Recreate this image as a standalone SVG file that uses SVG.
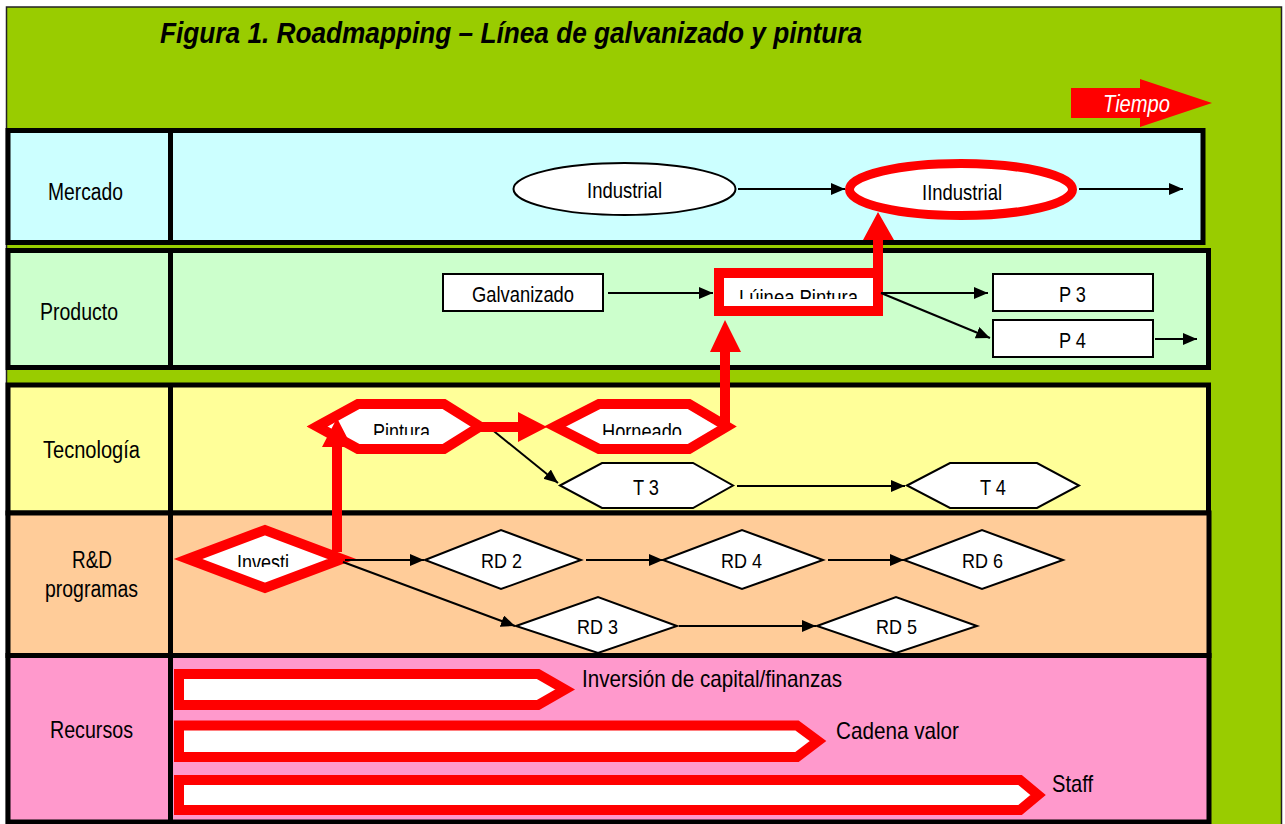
<svg xmlns="http://www.w3.org/2000/svg" width="1285" height="824" viewBox="0 0 1285 824">
<style>
  .lane{stroke:#000;stroke-width:5}
  .div{stroke:#000;stroke-width:5}
  .node{fill:#fff;stroke:#000;stroke-width:2}
  .hl{fill:#fff;stroke:#f00;stroke-width:10;stroke-linejoin:miter}
  .hle{fill:#fff;stroke:#f00;stroke-width:9}
  .t{font-family:"Liberation Sans",Arial,sans-serif;fill:#000}
  .lab{font-size:23.5px}
  .nl{font-size:22px}
  .rd{font-size:21px}
  .res{font-size:24px}
  .conn{stroke:#000;stroke-width:2;fill:none}
  .red{fill:#f00;stroke:none}
</style>
<defs>
  <marker id="ah" markerUnits="userSpaceOnUse" markerWidth="15" markerHeight="13" refX="14" refY="6" orient="auto">
    <path d="M0,0 L14,6 L0,12 z" fill="#000"/>
  </marker>
  <clipPath id="cLinea"><rect x="720" y="270" width="160" height="29"/></clipPath>
  <clipPath id="cPint"><rect x="320" y="400" width="420" height="35"/></clipPath>
  <clipPath id="cInv"><rect x="190" y="530" width="150" height="37"/></clipPath>
</defs>

<!-- background -->
<rect x="0" y="0" width="1285" height="824" fill="#fff"/>
<rect x="6.5" y="7" width="1275" height="822" fill="#99CC00" stroke="#222" stroke-width="1.5"/>

<text class="t" x="160" y="43" font-size="29" font-weight="bold" font-style="italic" textLength="702" lengthAdjust="spacingAndGlyphs">Figura 1. Roadmapping – Línea de galvanizado y pintura</text>

<g id="tiempo">
  <polygon class="red" points="1071,88 1140,88 1140,79 1212,103 1140,127 1140,118 1071,118"/>
  <text class="t" x="1103" y="112" font-size="24" font-style="italic" fill="#fff" style="fill:#fff" textLength="67" lengthAdjust="spacingAndGlyphs">Tiempo</text>
</g>

<!-- lanes -->
<g id="lane-mercado">
  <rect class="lane" x="8" y="130.5" width="1195" height="112" fill="#CCFFFF"/>
  <line class="div" x1="170.5" y1="130.5" x2="170.5" y2="242.5"/>
  <text class="t lab" x="48" y="200" textLength="75" lengthAdjust="spacingAndGlyphs">Mercado</text>
</g>
<g id="lane-producto">
  <rect class="lane" x="8" y="250.5" width="1200.5" height="117" fill="#CCFFCC"/>
  <line class="div" x1="170.5" y1="250.5" x2="170.5" y2="367.5"/>
  <text class="t lab" x="40" y="320" textLength="78" lengthAdjust="spacingAndGlyphs">Producto</text>
</g>
<g id="lane-tecnologia">
  <rect class="lane" x="8" y="385" width="1200.5" height="128" fill="#FFFF99"/>
  <line class="div" x1="170.5" y1="385" x2="170.5" y2="513"/>
  <text class="t lab" x="43" y="458" textLength="97" lengthAdjust="spacingAndGlyphs">Tecnología</text>
</g>
<g id="lane-rd">
  <rect class="lane" x="8" y="513" width="1201" height="142.5" fill="#FFCC99"/>
  <line class="div" x1="170.5" y1="513" x2="170.5" y2="655.5"/>
  <text class="t lab" x="72" y="568" textLength="40" lengthAdjust="spacingAndGlyphs">R&amp;D</text>
  <text class="t lab" x="45" y="597" textLength="93" lengthAdjust="spacingAndGlyphs">programas</text>
</g>
<g id="lane-recursos">
  <rect class="lane" x="8" y="655.5" width="1201" height="166.5" fill="#FF99CC"/>
  <line class="div" x1="170.5" y1="655.5" x2="170.5" y2="822"/>
  <text class="t lab" x="50" y="738" textLength="83" lengthAdjust="spacingAndGlyphs">Recursos</text>
</g>

<!-- Mercado nodes -->
<g id="m-industrial">
  <ellipse class="node" cx="624.5" cy="189" rx="111" ry="26"/>
  <text class="t nl" x="587" y="198" textLength="75" lengthAdjust="spacingAndGlyphs">Industrial</text>
</g>
<g id="m-iindustrial">
  <ellipse class="hle" cx="961" cy="189.5" rx="111.5" ry="26"/>
  <text class="t nl" x="922" y="200" textLength="80" lengthAdjust="spacingAndGlyphs">IIndustrial</text>
</g>

<!-- Producto nodes -->
<g id="p-galvanizado">
  <rect class="node" x="443" y="274" width="160" height="37"/>
  <text class="t nl" x="472" y="302" textLength="102" lengthAdjust="spacingAndGlyphs">Galvanizado</text>
</g>
<g id="p-linea">
  <rect class="hl" x="719" y="273" width="159" height="38"/>
  <text class="t nl" x="739" y="305" clip-path="url(#cLinea)" textLength="119" lengthAdjust="spacingAndGlyphs">Lúinea Pintura</text>
</g>
<g id="p-p3">
  <rect class="node" x="993" y="274" width="160" height="37"/>
  <text class="t nl" x="1059" y="302" textLength="27" lengthAdjust="spacingAndGlyphs">P 3</text>
</g>
<g id="p-p4">
  <rect class="node" x="993" y="320" width="160" height="37"/>
  <text class="t nl" x="1059" y="348" textLength="27" lengthAdjust="spacingAndGlyphs">P 4</text>
</g>

<!-- Tecnologia nodes -->
<g id="t-pintura">
  <polygon class="hl" points="317,426.5 358,404 444,404 480,426.5 444,449 358,449"/>
  <text class="t nl" x="373" y="439" clip-path="url(#cPint)" textLength="57" lengthAdjust="spacingAndGlyphs">Pintura</text>
</g>
<g id="t-horneado">
  <polygon class="hl" points="555,426.5 599,404 689,404 727,426.5 689,449 599,449"/>
  <text class="t nl" x="602" y="439" clip-path="url(#cPint)" textLength="80" lengthAdjust="spacingAndGlyphs">Horneado</text>
</g>
<g id="t-t3">
  <polygon class="node" points="560,485.5 602,463 693,463 733,485.5 693,508 602,508"/>
  <text class="t nl" x="633" y="495" textLength="26" lengthAdjust="spacingAndGlyphs">T 3</text>
</g>
<g id="t-t4">
  <polygon class="node" points="907,485.5 950,463 1037,463 1079,485.5 1037,508 950,508"/>
  <text class="t nl" x="980" y="495" textLength="26" lengthAdjust="spacingAndGlyphs">T 4</text>
</g>

<!-- R&D nodes -->
<g id="rd-investi">
  <polygon class="hl" points="188,559 265,530 342,559 265,588"/>
  <text class="t nl" x="237" y="570" clip-path="url(#cInv)" textLength="52" lengthAdjust="spacingAndGlyphs">Investi</text>
</g>
<g id="rd-2">
  <polygon class="node" points="425,560 501,530 581,560 501,589"/>
  <text class="t rd" x="481" y="568" textLength="41" lengthAdjust="spacingAndGlyphs">RD 2</text>
</g>
<g id="rd-4">
  <polygon class="node" points="663,560 742,530 823,560 742,589"/>
  <text class="t rd" x="721" y="568" textLength="41" lengthAdjust="spacingAndGlyphs">RD 4</text>
</g>
<g id="rd-6">
  <polygon class="node" points="904,560 982,530 1063,560 982,589"/>
  <text class="t rd" x="962" y="568" textLength="41" lengthAdjust="spacingAndGlyphs">RD 6</text>
</g>
<g id="rd-3">
  <polygon class="node" points="516,626 598,597 677,626 598,653"/>
  <text class="t rd" x="577" y="634" textLength="41" lengthAdjust="spacingAndGlyphs">RD 3</text>
</g>
<g id="rd-5">
  <polygon class="node" points="817,626 896,597 977,626 896,653"/>
  <text class="t rd" x="876" y="634" textLength="41" lengthAdjust="spacingAndGlyphs">RD 5</text>
</g>

<!-- Recursos -->
<g id="r-inversion">
  <polygon class="hl" points="179,674 538,674 565,689.5 538,705 179,705"/>
  <text class="t res" x="582" y="687" textLength="260" lengthAdjust="spacingAndGlyphs">Inversión de capital/finanzas</text>
</g>
<g id="r-cadena">
  <polygon class="hl" points="179,725.5 797,725.5 818,741 797,757 179,757"/>
  <text class="t res" x="836" y="739" textLength="123" lengthAdjust="spacingAndGlyphs">Cadena valor</text>
</g>
<g id="r-staff">
  <polygon class="hl" points="179,780 1020,780 1038,795 1020,810 179,810"/>
  <text class="t res" x="1052" y="792" textLength="41" lengthAdjust="spacingAndGlyphs">Staff</text>
</g>

<!-- connectors -->
<g id="connectors">
  <line class="conn" x1="738" y1="189" x2="845" y2="189" marker-end="url(#ah)"/>
  <line class="conn" x1="1079" y1="189" x2="1183" y2="189" marker-end="url(#ah)"/>
  <line class="conn" x1="608" y1="293" x2="713" y2="293" marker-end="url(#ah)"/>
  <line class="conn" x1="881" y1="293" x2="988" y2="293" marker-end="url(#ah)"/>
  <line class="conn" x1="881" y1="293" x2="990" y2="338" marker-end="url(#ah)"/>
  <line class="conn" x1="1155" y1="339" x2="1197" y2="339" marker-end="url(#ah)"/>
  <line class="conn" x1="490" y1="428" x2="558" y2="483" marker-end="url(#ah)"/>
  <line class="conn" x1="737" y1="486" x2="905" y2="486" marker-end="url(#ah)"/>
  <line class="conn" x1="345" y1="560" x2="424" y2="560" marker-end="url(#ah)"/>
  <line class="conn" x1="343" y1="562" x2="515" y2="626" marker-end="url(#ah)"/>
  <line class="conn" x1="586" y1="560" x2="663" y2="560" marker-end="url(#ah)"/>
  <line class="conn" x1="828" y1="560" x2="904" y2="560" marker-end="url(#ah)"/>
  <line class="conn" x1="679" y1="626" x2="816" y2="626" marker-end="url(#ah)"/>
  <!-- red critical path -->
  <polygon class="red" points="332,552 332,447 322,447 337,418 352,447 342,447 342,552"/>
  <polygon class="red" points="480,422 518,422 518,412 547,427 518,442 518,432 480,432"/>
  <polygon class="red" points="720,430 720,352 710,352 725,320 741,352 730,352 730,430"/>
  <polygon class="red" points="873,273 873,240 863,240 878,212 894,240 883,240 883,273"/>
</g>
</svg>
